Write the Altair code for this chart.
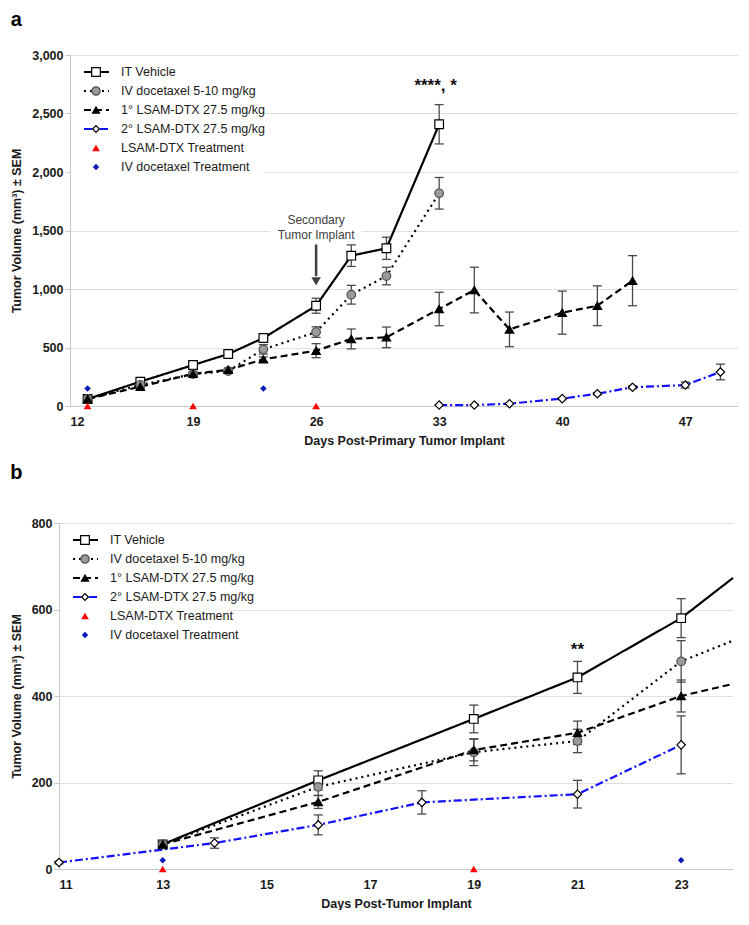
import altair as alt
import pandas as pd

FONT = "Liberation Sans"

GROUPS = ["IT Vehicle", "IV docetaxel 5-10 mg/kg", "1° LSAM-DTX 27.5 mg/kg", "2° LSAM-DTX 27.5 mg/kg"]
TREATMENTS = ["LSAM-DTX Treatment", "IV docetaxel Treatment"]

# ---------------- Panel a data ----------------
a_vehicle_day = [13, 16, 19, 21, 23, 26, 28, 30, 33]
a_vehicle_vol = [60, 208, 350, 444, 581, 857, 1285, 1348, 2408]
a_vehicle_sem = [12, 18, 20, 20, 30, 64, 92, 95, 168]

a_docetaxel_day = [13, 16, 19, 21, 23, 26, 28, 30, 33]
a_docetaxel_vol = [60, 180, 273, 299, 484, 632, 951, 1111, 1818]
a_docetaxel_sem = [10, 15, 20, 20, 40, 45, 80, 75, 135]

a_lsam1_day = [13, 16, 19, 21, 23, 26, 28, 30, 33, 35, 37, 40, 42, 44]
a_lsam1_vol = [60, 165, 275, 310, 399, 473, 573, 587, 829, 991, 655, 798, 857, 1071]
a_lsam1_sem = [10, 15, 15, 15, 20, 60, 85, 88, 143, 195, 148, 184, 170, 214]

a_lsam2_day = [33, 35, 37, 40, 42, 44, 47, 49]
a_lsam2_vol = [8, 8, 20, 63, 105, 160, 179, 291]
a_lsam2_sem = [0, 0, 5, 8, 10, 12, 25, 67]

a_lsam_treat_day = [13, 19, 26]
a_lsam_treat_vol = [0, 0, 0]
a_iv_treat_day = [13, 23]
a_iv_treat_vol = [150, 150]

a_x_ticks = [12, 19, 26, 33, 40, 47]
a_y_ticks = [0, 500, 1000, 1500, 2000, 2500, 3000]

# ---------------- Panel b data ----------------
b_vehicle_day = [13, 16, 19, 21, 23]
b_vehicle_vol = [57, 205, 347, 443, 580]
b_vehicle_sem = [5, 22, 32, 37, 45]

b_docetaxel_day = [13, 16, 19, 21, 23]
b_docetaxel_vol = [57, 190, 270, 296, 480]
b_docetaxel_sem = [5, 20, 31, 27, 48]

b_lsam1_day = [13, 16, 19, 21, 23]
b_lsam1_vol = [57, 155, 275, 315, 400]
b_lsam1_sem = [5, 15, 25, 27, 37]

b_lsam2_day = [11, 14, 16, 18, 21, 23]
b_lsam2_vol = [15, 60, 102, 154, 173, 287]
b_lsam2_sem = [3, 12, 23, 27, 32, 67]

# lines continue to the right edge of panel b (no marker there)
b_edge_day = 24
b_edge_vol = [673, 528, 428]   # vehicle, docetaxel, 1° LSAM

b_lsam_treat_day = [13, 19]
b_lsam_treat_vol = [0, 0]
b_iv_treat_day = [13, 23]
b_iv_treat_vol = [20, 20]

b_x_ticks = [11, 13, 15, 17, 19, 21, 23]
b_y_ticks = [0, 200, 400, 600, 800]

# ---------------- styles ----------------
COLORS = ["black", "black", "black", "#1010ff"]
DASHES = [[1, 0], [2, 4], [7, 4], [8, 3, 2, 3]]
SHAPES = ["square", "circle", "triangle-up", "diamond"]
FILLS = ["white", "#9a9a9a", "black", "white"]
STROKES = ["black", "#505050", "black", "black"]
SIZES = [75, 70, 50, 45]
ERR_COLOR = "#4a4a4a"


def series_df(series):
    rows = []
    for g, days, vols, sems in series:
        for d, v, s in zip(days, vols, sems):
            rows.append({"group": g, "day": d, "vol": v, "lo": v - s, "hi": v + s})
    return pd.DataFrame(rows)


def line_df(series, extra):
    rows = []
    for g, days, vols, _ in series:
        for d, v in zip(days, vols):
            rows.append({"group": g, "day": d, "vol": v})
    for g, d, v in extra:
        rows.append({"group": g, "day": d, "vol": v})
    return pd.DataFrame(rows)


def legend_layers(box_w):
    layers = []
    bg = alt.Chart(pd.DataFrame({"k": [0]})).mark_rect(fill="white").encode(
        x=alt.value(1), x2=alt.value(box_w), y=alt.value(4), y2=alt.value(122))
    layers.append(bg)
    for i, lab in enumerate(GROUPS + TREATMENTS):
        yy = 17 + i * 19
        d = pd.DataFrame({"label": [lab]})
        if i < 4:
            layers.append(alt.Chart(d).mark_rule(
                color=COLORS[i], strokeDash=DASHES[i], strokeWidth=2.2).encode(
                x=alt.value(14), x2=alt.value(39), y=alt.value(yy)))
            layers.append(alt.Chart(d).mark_point(
                shape=SHAPES[i], fill=FILLS[i], stroke=STROKES[i], strokeWidth=1.2,
                opacity=1, fillOpacity=1, size=SIZES[i]).encode(
                x=alt.value(26), y=alt.value(yy)))
        elif i == 4:
            layers.append(alt.Chart(d).mark_point(
                shape="triangle-up", filled=True, color="#ff0000", size=60, opacity=1).encode(
                x=alt.value(26), y=alt.value(yy)))
        else:
            layers.append(alt.Chart(d).mark_point(
                shape="diamond", filled=True, color="#0a1ab8", size=42, opacity=1).encode(
                x=alt.value(26), y=alt.value(yy)))
        layers.append(alt.Chart(d).mark_text(
            align="left", baseline="middle", fontSize=12.5, font=FONT, color="#1a1a1a").encode(
            x=alt.value(51), y=alt.value(yy), text="label:N"))
    return layers


def panel(series, extra, lsam_t, iv_t, xdom, xticks, ydom, yticks, xtitle):
    pts = series_df(series)
    lines = line_df(series, extra)
    xs = alt.Scale(domain=xdom, nice=False, zero=False)
    ys = alt.Scale(domain=ydom, nice=False)
    xenc = alt.X("day:Q", scale=xs, axis=alt.Axis(
        values=xticks, grid=False, title=xtitle, labelFontWeight="bold", labelFontSize=12.5,
        titleFontWeight="bold", titleFontSize=12.5, labelPadding=9, tickSize=0,
        domainColor="#c8c8c8", labelColor="#1a1a1a", titleColor="#1a1a1a", titlePadding=7,
        labelFont=FONT, titleFont=FONT))
    yenc = alt.Y("vol:Q", scale=ys, axis=alt.Axis(
        values=yticks, format=",.0f", grid=True, gridColor="#e0e0e0", title="Tumor Volume (mm³) ± SEM",
        labelFontWeight="bold", labelFontSize=12.5, titleFontWeight="bold", titleFontSize=12.5,
        tickSize=5, tickColor="#c8c8c8", domainColor="#c8c8c8", labelColor="#1a1a1a",
        titleColor="#1a1a1a", titlePadding=8, labelFont=FONT, titleFont=FONT))

    base_line = alt.Chart(lines).mark_line(strokeWidth=2.2).encode(
        x=xenc, y=yenc,
        color=alt.Color("group:N", scale=alt.Scale(domain=GROUPS, range=COLORS), legend=None),
        strokeDash=alt.StrokeDash("group:N", scale=alt.Scale(domain=GROUPS, range=DASHES), legend=None),
        detail="group:N", order="day:Q")

    err = alt.Chart(pts).mark_rule(color=ERR_COLOR, strokeWidth=1.3).encode(
        x="day:Q", y="lo:Q", y2="hi:Q")
    cap_lo = alt.Chart(pts).mark_rule(color=ERR_COLOR, strokeWidth=1.3, xOffset=-4.5, x2Offset=4.5).encode(
        x="day:Q", x2="day:Q", y="lo:Q")
    cap_hi = alt.Chart(pts).mark_rule(color=ERR_COLOR, strokeWidth=1.3, xOffset=-4.5, x2Offset=4.5).encode(
        x="day:Q", x2="day:Q", y="hi:Q")

    points = alt.Chart(pts).mark_point(strokeWidth=1.2, opacity=1, fillOpacity=1).encode(
        x="day:Q", y="vol:Q",
        shape=alt.Shape("group:N", scale=alt.Scale(domain=GROUPS, range=SHAPES), legend=None),
        fill=alt.Fill("group:N", scale=alt.Scale(domain=GROUPS, range=FILLS), legend=None),
        stroke=alt.Stroke("group:N", scale=alt.Scale(domain=GROUPS, range=STROKES), legend=None),
        size=alt.Size("group:N", scale=alt.Scale(domain=GROUPS, range=SIZES), legend=None))

    lt = alt.Chart(pd.DataFrame({"day": lsam_t[0], "vol": lsam_t[1]})).mark_point(
        shape="triangle-up", filled=True, color="#ff0000", size=60, opacity=1).encode(x="day:Q", y="vol:Q")
    it = alt.Chart(pd.DataFrame({"day": iv_t[0], "vol": iv_t[1]})).mark_point(
        shape="diamond", filled=True, color="#0a1ab8", size=42, opacity=1).encode(x="day:Q", y="vol:Q")

    return [base_line, err, cap_lo, cap_hi, points, lt, it]


def spacer():
    return alt.Chart(pd.DataFrame({"k": [0]})).mark_rule(opacity=0).encode(
        x=alt.value(0), x2=alt.value(1), y=alt.value(0)).properties(width=1, height=1)


# ---------------- Panel a ----------------
a_series = [
    (GROUPS[0], a_vehicle_day, a_vehicle_vol, a_vehicle_sem),
    (GROUPS[1], a_docetaxel_day, a_docetaxel_vol, a_docetaxel_sem),
    (GROUPS[2], a_lsam1_day, a_lsam1_vol, a_lsam1_sem),
    (GROUPS[3], a_lsam2_day, a_lsam2_vol, a_lsam2_sem),
]
a_layers = panel(a_series, [], (a_lsam_treat_day, a_lsam_treat_vol), (a_iv_treat_day, a_iv_treat_vol),
                 [12, 50], a_x_ticks, [0, 3000], a_y_ticks, "Days Post-Primary Tumor Implant")

# annotations panel a
arrow_day = [26]
arrow_top = [1380]
arrow_end = [1110]
arrow_head = [1065]
note_box = pd.DataFrame({"x1": [23.4], "x2": [28.6], "y1": [1470], "y2": [1730]})
note = pd.DataFrame({"day": [26], "vol": [1590], "txt": ["Secondary\nTumor Implant"]})
sig_a = pd.DataFrame({"day": [32.8], "vol": [2735], "txt": ["****, *"]})

a_ann = [
    alt.Chart(note_box).mark_rect(fill="white").encode(x="x1:Q", x2="x2:Q", y="y1:Q", y2="y2:Q"),
    alt.Chart(note).mark_text(lineBreak="\n", fontSize=12, font=FONT, color="#404040", lineHeight=15).encode(
        x="day:Q", y="vol:Q", text="txt:N"),
    alt.Chart(pd.DataFrame({"day": arrow_day, "top": arrow_top, "end": arrow_end})).mark_rule(
        color="#404040", strokeWidth=2.5).encode(x="day:Q", y="top:Q", y2="end:Q"),
    alt.Chart(pd.DataFrame({"day": arrow_day, "vol": arrow_head})).mark_point(
        shape="triangle-down", filled=True, color="#404040", size=90, opacity=1).encode(x="day:Q", y="vol:Q"),
    alt.Chart(sig_a).mark_text(fontSize=17, fontWeight="bold", font=FONT, color="#111").encode(
        x="day:Q", y="vol:Q", text="txt:N"),
]

chart_a = alt.layer(*(a_layers + a_ann + legend_layers(193))).properties(
    width=668, height=351,
    title=alt.TitleParams("a", anchor="start", fontSize=20, fontWeight="bold", font=FONT, offset=19, color="black"))

# ---------------- Panel b ----------------
b_series = [
    (GROUPS[0], b_vehicle_day, b_vehicle_vol, b_vehicle_sem),
    (GROUPS[1], b_docetaxel_day, b_docetaxel_vol, b_docetaxel_sem),
    (GROUPS[2], b_lsam1_day, b_lsam1_vol, b_lsam1_sem),
    (GROUPS[3], b_lsam2_day, b_lsam2_vol, b_lsam2_sem),
]
b_extra = [(GROUPS[i], b_edge_day, b_edge_vol[i]) for i in range(3)]
b_layers = panel(b_series, b_extra, (b_lsam_treat_day, b_lsam_treat_vol), (b_iv_treat_day, b_iv_treat_vol),
                 [11, 24], b_x_ticks, [0, 800], b_y_ticks, "Days Post-Tumor Implant")
sig_b = pd.DataFrame({"day": [21], "vol": [506], "txt": ["**"]})
b_ann = [alt.Chart(sig_b).mark_text(fontSize=17, fontWeight="bold", font=FONT, color="#111").encode(
    x="day:Q", y="vol:Q", text="txt:N")]

chart_b = alt.layer(*(b_layers + b_ann + legend_layers(172))).properties(
    width=674, height=346,
    title=alt.TitleParams("b", anchor="start", fontSize=20, fontWeight="bold", font=FONT, offset=34, color="black"))

chart = alt.vconcat(alt.hconcat(spacer(), chart_a, spacing=0), alt.hconcat(spacer(), chart_b, spacing=0),
                    spacing=16).properties(
    padding={"left": 1, "top": 2, "right": 0, "bottom": 0}
).configure(font=FONT).configure_view(stroke=None)

chart.save("out.html", embed_options={"renderer": "svg", "actions": False})
